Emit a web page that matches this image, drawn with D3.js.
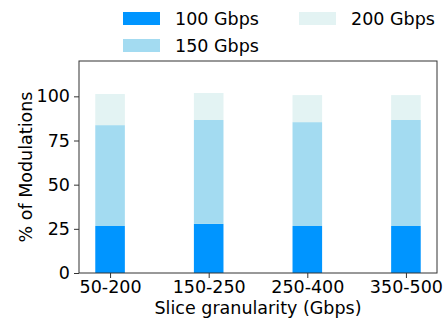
<!DOCTYPE html>
<html>
<head>
<meta charset="utf-8">
<script src="https://cdn.jsdelivr.net/npm/d3@7"></script>
<style>
  body { margin: 0; background: #fff; }
  text { font-family: "DejaVu Sans", sans-serif; fill: #000; }
</style>
</head>
<body>
<div id="chart"></div>
<script>
// data
const categories = ["50-200", "150-250", "250-400", "350-500"];
const seriesNames = ["100 Gbps", "150 Gbps", "200 Gbps"];
const gbps100 = [26.6, 27.8, 26.6, 26.6];
const gbps150 = [57.1, 58.8, 58.8, 60.0];
const gbps200 = [17.6, 15.3, 15.3, 14.1];
const yTicks = [0, 25, 50, 75, 100];

const colors = ["#0095ff", "#a3dbf1", "#e3f3f3"];
const fs = "17.5px";

const W = 448, H = 321;
const margin = { top: 61, right: 11, bottom: 48, left: 79 };
const width = W - margin.left - margin.right;
const height = H - margin.top - margin.bottom;

const svg = d3.select("#chart").append("svg")
  .attr("width", W)
  .attr("height", H);

const g = svg.append("g")
  .attr("transform", `translate(${margin.left},${margin.top})`);

// scales (bars at integer positions, width 0.3)
const x = d3.scaleLinear().domain([-0.315, 3.315]).range([0, width]);
const y = d3.scaleLinear().domain([0, 120]).range([height, 0]);
const barW = x(0.3) - x(0);

// stack
const rows = categories.map((c, i) => ({
  cat: i, "100 Gbps": gbps100[i], "150 Gbps": gbps150[i], "200 Gbps": gbps200[i]
}));
const stacked = d3.stack().keys(seriesNames)(rows);

g.selectAll(".layer")
  .data(stacked)
  .join("g")
  .attr("fill", (d, i) => colors[i])
  .selectAll("rect")
  .data(d => d)
  .join("rect")
  .attr("x", d => x(d.data.cat) - barW / 2)
  .attr("width", barW)
  .attr("y", d => y(d[1]))
  .attr("height", d => y(d[0]) - y(d[1]));

// axes
const xAxis = g.append("g")
  .attr("transform", `translate(0,${height})`)
  .call(d3.axisBottom(x).tickValues([0, 1, 2, 3]).tickFormat(i => categories[i]).tickSize(5).tickPadding(3));
const yAxis = g.append("g")
  .call(d3.axisLeft(y).tickValues(yTicks).tickSize(5).tickPadding(4));

[xAxis, yAxis].forEach(a => {
  a.select(".domain").remove();
  a.selectAll("text").style("font-size", fs).style("font-family", "DejaVu Sans");
  a.selectAll("line").attr("stroke", "#333");
});

// frame
g.append("rect")
  .attr("width", width)
  .attr("height", height)
  .attr("fill", "none")
  .attr("stroke", "#333")
  .attr("stroke-width", 1);

// axis labels
g.append("text")
  .attr("x", width / 2)
  .attr("y", height + 41)
  .attr("text-anchor", "middle")
  .style("font-size", fs)
  .text("Slice granularity (Gbps)");

g.append("text")
  .attr("transform", "rotate(-90)")
  .attr("x", -height / 2)
  .attr("y", -47)
  .attr("text-anchor", "middle")
  .style("font-size", fs)
  .text("% of Modulations");

// legend (2 columns)
const legendPos = [[123, 12], [123, 39], [299, 12]];
const legend = svg.selectAll(".legend")
  .data(seriesNames)
  .join("g")
  .attr("transform", (d, i) => `translate(${legendPos[i][0]},${legendPos[i][1]})`);
legend.append("rect")
  .attr("width", 37)
  .attr("height", 13)
  .attr("fill", (d, i) => colors[i]);
legend.append("text")
  .attr("x", 52)
  .attr("y", 6.5)
  .attr("dy", "0.35em")
  .style("font-size", fs)
  .text(d => d);
</script>
</body>
</html>
